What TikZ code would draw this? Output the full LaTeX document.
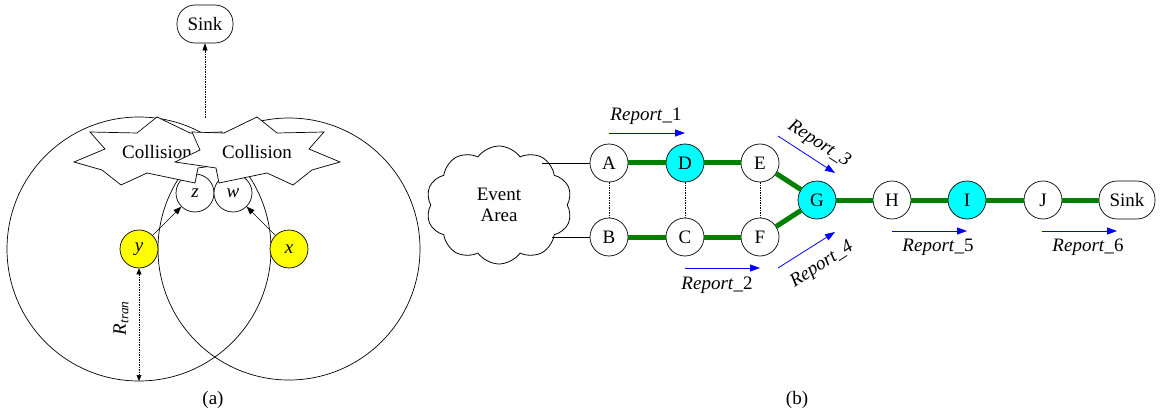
\documentclass[tikz,border=0pt]{standalone}
\usepackage{fontspec}
\setmainfont{Liberation Serif}
\newfontfamily\timesf{Liberation Serif}
\usetikzlibrary{shapes.symbols,arrows.meta}
\definecolor{dkgreen}{RGB}{0,128,0}
\definecolor{aqua}{RGB}{0,255,255}
\definecolor{yel}{RGB}{255,255,0}
\begin{document}
\begin{tikzpicture}[x=1pt,y=-1pt,
  font=\timesf\fontsize{19}{21}\selectfont,
  nd/.style={circle,draw,line width=0.7pt,minimum size=38pt,inner sep=0pt,fill=white},
  hot/.style={nd,fill=aqua},
  yelnd/.style={nd,fill=yel},
  sinkbox/.style={draw,rounded corners=18pt,minimum width=56pt,minimum height=38pt,inner sep=0pt,line width=0.7pt,fill=white},
  gr/.style={draw=dkgreen,line width=5pt},
  rep/.style={blue,line width=0.8pt,-{Triangle[length=10pt,width=7pt]}},
  blk/.style={line width=0.7pt,-{Triangle[length=8pt,width=6pt]}},
  dimline/.style={line width=0.5pt,dash pattern=on 1.5pt off 1pt},
  burst/.pic={\draw[fill=white,line width=0.7pt]
    (0,-35) -- (20,-19) -- (67,-20) -- (52,-3) -- (83,10) -- (55,18) -- (36,33) -- (10,21)
    -- (-38,31) -- (-41,16) -- (-82,10) -- (-57,-2) -- (-65,-20) -- (-33,-19) -- cycle;},
  replab/.style={inner sep=0pt}
]
\useasboundingbox (0,0) rectangle (1162,417);

% ---------------- (a) ----------------
\draw[line width=0.7pt] (139,249) circle (132);
\draw[line width=0.7pt] (289,249) circle (131);
\node[nd] (z) at (195,193) {\textit{z}};
\node[nd] (w) at (233,193) {\textit{w}};
\pic[xscale=-1] at (157,152) {burst};
\node[inner sep=0pt] (c1) at (157,152) {Collision};
\pic at (257,152) {burst};
\node[inner sep=0pt] (c2) at (257,152) {Collision};
\node[yelnd] (y) at (139,249) {\textit{y}};
\node[yelnd] (x) at (289,249) {\textit{x}};
\draw[blk] (y) -- (z);
\draw[blk] (x) -- (w);
\node[sinkbox] (sa) at (205,24) {Sink};
\coordinate (st) at (205,118);
\draw[dimline,-{Triangle[length=7pt,width=5pt]}] (st) -- (sa);
\coordinate (rb) at (139,381);
\draw[dimline,{Triangle[length=6pt,width=5pt]}-{Triangle[length=6pt,width=5pt]}] (y) -- (rb);
\node[rotate=90] (rt) at (121,318) {\textit{R}\textsubscript{\textit{tran}}};
\node (la) at (213,400) {(a)};

% ---------------- (b) ----------------
\node[cloud,draw,cloud puffs=10,cloud puff arc=110,aspect=1.22,
      minimum width=146pt,minimum height=118pt,inner sep=0pt,align=center,line width=0.8pt]
      (ev) at (499,205) {Event\\Area};
\node[nd] (A) at (609,163) {A};
\node[nd] (B) at (609,237) {B};
\node[hot] (D) at (685,163) {D};
\node[nd] (C) at (685,237) {C};
\node[nd] (E) at (760,163) {E};
\node[nd] (F) at (760,237) {F};
\node[hot] (G) at (817,200) {G};
\node[nd] (H) at (892,200) {H};
\node[hot] (I) at (967,200) {I};
\node[nd] (J) at (1043,200) {J};
\node[sinkbox] (sb) at (1127,200) {Sink};

\coordinate (ca) at (542,163);
\coordinate (cb) at (552,237);
\draw[line width=0.7pt] (ca) -- (A);
\draw[line width=0.7pt] (cb) -- (B);
\draw[dimline] (A) -- (B);
\draw[dimline] (D) -- (C);
\draw[dimline] (E) -- (F);
\draw[gr] (A) -- (D);
\draw[gr] (D) -- (E);
\draw[gr] (E) -- (G);
\draw[gr] (B) -- (C);
\draw[gr] (C) -- (F);
\draw[gr] (F) -- (G);
\draw[gr] (G) -- (H);
\draw[gr] (H) -- (I);
\draw[gr] (I) -- (J);
\draw[gr] (J) -- (sb);

% report arrows
\coordinate (r1a) at (609,133); \coordinate (r1b) at (685,133);
\coordinate (r2a) at (685,268); \coordinate (r2b) at (760,268);
\coordinate (r3a) at (778,136); \coordinate (r3b) at (835,173);
\coordinate (r4a) at (778,268); \coordinate (r4b) at (835,232);
\coordinate (r5a) at (892,231); \coordinate (r5b) at (967,231);
\coordinate (r6a) at (1042,231); \coordinate (r6b) at (1117,231);
\draw[rep] (r1a) -- (r1b);
\draw[rep] (r2a) -- (r2b);
\draw[rep] (r3a) -- (r3b);
\draw[rep] (r4a) -- (r4b);
\draw[rep] (r5a) -- (r5b);
\draw[rep] (r6a) -- (r6b);
\node[replab] (l1) at (646,116) {\textit{Report}\_1};
\node[replab] (l2) at (717,285) {\textit{Report}\_2};
\node[replab,rotate=-33] (l3) at (819,144) {\textit{Report\_3}};
\node[replab,rotate=33] (l4) at (822,265) {\textit{Report\_4}};
\node[replab] (l5) at (938,247) {\textit{Report}\_5};
\node[replab] (l6) at (1088,247) {\textit{Report}\_6};
\node (lb) at (797,400) {(b)};
\end{tikzpicture}
\end{document}
